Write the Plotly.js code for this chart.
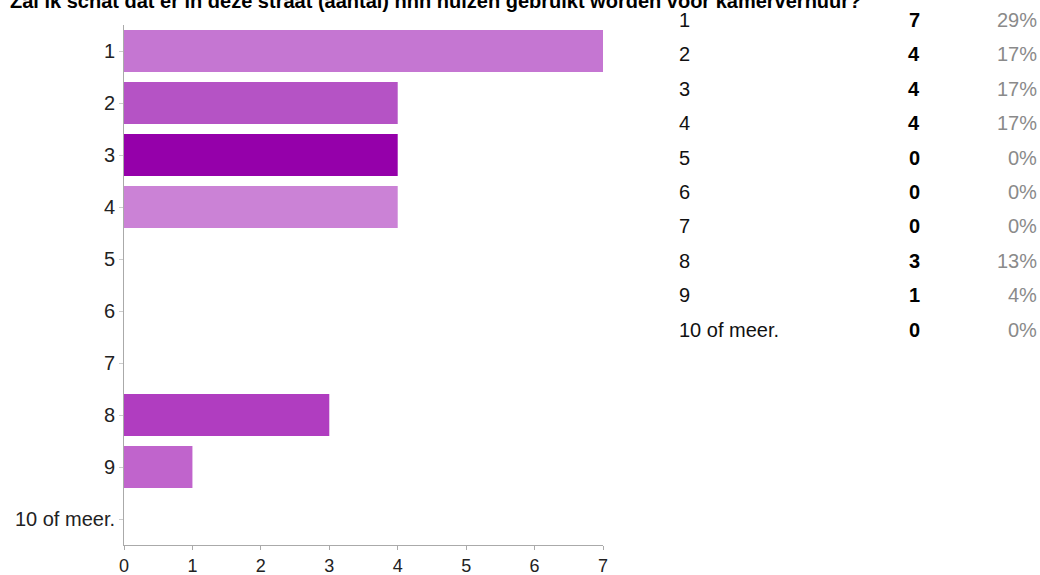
<!DOCTYPE html>
<html>
<head>
<meta charset="utf-8">
<script src="https://cdn.plot.ly/plotly-3.0.1.min.js"></script>
<style>html,body{margin:0;padding:0;background:#fff;overflow:hidden;}#chart{width:1040px;height:575px;}</style>
</head>
<body>
<div id="chart"></div>
<script>
const titleText = 'Zal ik schat dat er in deze straat (aantal) nnn huizen gebruikt worden voor kamerverhuur?';
const categories = ['1','2','3','4','5','6','7','8','9','10 of meer.'];
const counts = [7,4,4,4,0,0,0,3,1,0];
const percents = ['29%','17%','17%','17%','0%','0%','0%','13%','4%','0%'];
const barColors = ['#c576d2','#b553c5','#9500aa','#cb82d6','#c576d2','#c576d2','#c576d2','#b03dc0','#c064cc','#c576d2'];

const W = 1040, H = 575;
const mL = 124, mR = 437, mT = 25, mB = 30;
const pw = W - mL - mR, ph = H - mT - mB;
const px2x = p => (p - mL) / pw;
const py2y = p => (H - mB - p) / ph;
const FONT = 'Arial, Liberation Sans, sans-serif';

const annotations = [];
annotations.push({xref:'paper', yref:'paper', x:px2x(8), y:py2y(1), xanchor:'left', yanchor:'middle', text:'<b>'+titleText+'</b>', showarrow:false, font:{family:FONT, size:20, color:'#000'}});
categories.forEach((c, i) => {
  const py = 20 + i * 34.4;
  annotations.push({xref:'paper', yref:'paper', x:px2x(677), y:py2y(py), xanchor:'left', yanchor:'middle', text:c, showarrow:false, font:{family:FONT, size:20, color:'#111'}});
  annotations.push({xref:'paper', yref:'paper', x:px2x(922), y:py2y(py), xanchor:'right', yanchor:'middle', text:'<b>'+counts[i]+'</b>', showarrow:false, font:{family:FONT, size:20, color:'#000'}});
  annotations.push({xref:'paper', yref:'paper', x:px2x(1039), y:py2y(py), xanchor:'right', yanchor:'middle', text:percents[i], showarrow:false, font:{family:FONT, size:20, color:'#8a8a8a'}});
});

const data = [{
  type:'bar', orientation:'h', y:categories, x:counts,
  marker:{color:barColors, line:{width:0}},
  hoverinfo:'none'
}];

const layout = {
  width:W, height:H,
  margin:{l:mL, r:mR, t:mT, b:mB, pad:0},
  paper_bgcolor:'#fff', plot_bgcolor:'#fff',
  showlegend:false,
  bargap:0.19,
  xaxis:{range:[0,7], tickvals:[0,1,2,3,4,5,6,7], showgrid:false, zeroline:false, showline:true, linecolor:'#aaa', linewidth:1, ticks:'outside', ticklen:4, tickcolor:'#aaa', ticklabelstandoff:0, tickfont:{family:FONT, size:18, color:'#222'}, fixedrange:true},
  yaxis:{type:'category', categoryorder:'array', categoryarray:categories, autorange:'reversed', showgrid:false, zeroline:false, showline:true, linecolor:'#aaa', linewidth:1, ticks:'outside', ticklen:4, tickcolor:'#ccc', tickfont:{family:FONT, size:20, color:'#222'}, fixedrange:true},
  annotations:annotations
};

Plotly.newPlot('chart', data, layout, {displayModeBar:false, staticPlot:true});
</script>
</body>
</html>
